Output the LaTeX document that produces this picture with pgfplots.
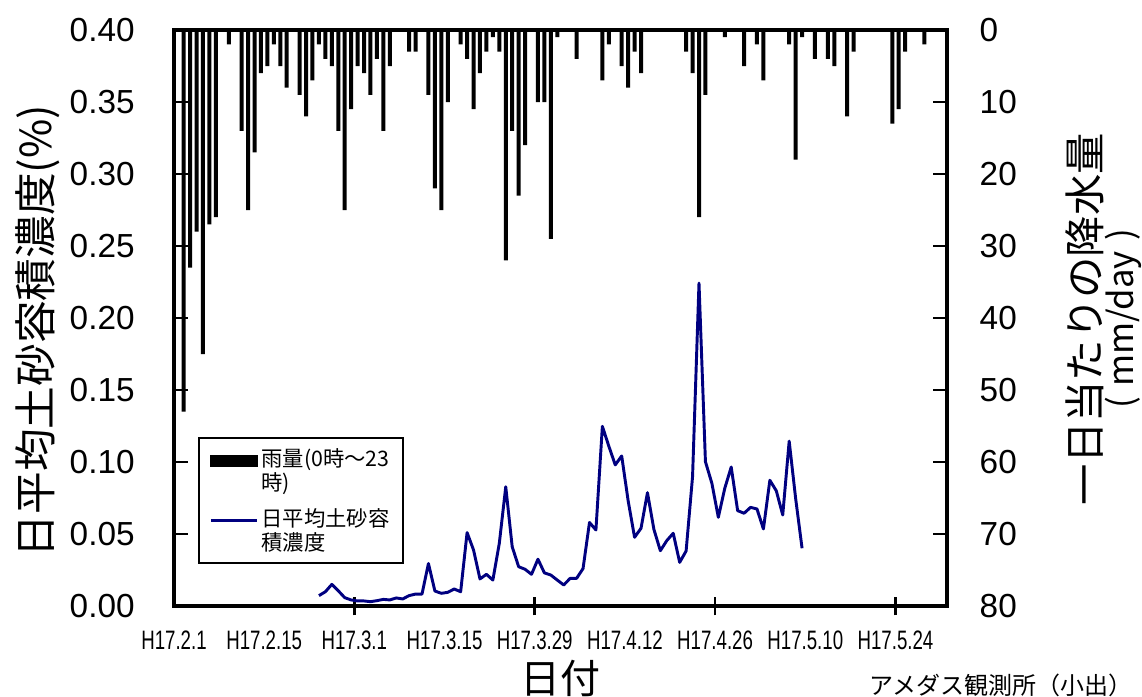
\documentclass[border=0pt]{standalone}
\usepackage{fontspec}
\setmainfont{Liberation Sans}
\newfontfamily\jp{Noto Sans CJK JP}
\newfontfamily\narrow[FakeStretch=0.7]{Liberation Sans}
\usepackage{pgfplots}
\usepackage{pgfplotstable}
\pgfplotsset{compat=1.18}
\definecolor{conc}{RGB}{0,0,128}

% daily rainfall (mm/day), x = day from H17.2.1 (bar centred in the day)
\pgfplotstableread{
x r
1.5 53
2.5 33
3.5 28
4.5 45
5.5 27
6.5 26
8.5 2
10.5 14
11.5 25
12.5 17
13.5 6
14.5 5
15.5 2
16.5 5
17.5 8
19.5 9
20.5 12
21.5 7
22.5 2
23.5 4
24.5 5
25.5 14
26.5 25
27.5 11
28.5 5
29.5 6
30.5 9
31.5 4
32.5 14
33.5 5
36.5 3
37.5 3
39.5 9
40.5 22
41.5 25
42.5 10
44.5 2
45.5 4
46.5 11
47.5 6
48.5 3
49.5 1
50.5 3
51.5 32
52.5 14
53.5 23
54.5 16
56.5 10
57.5 10
58.5 29
59.5 1
62.5 4
66.5 7
67.5 2
69.5 5
70.5 8
71.5 3
72.5 6
79.5 3
80.5 6
81.5 26
82.5 9
85.5 1
88.5 5
90.5 2
91.5 7
95.5 2
96.5 18
97.5 1
99.5 4
101.5 4
102.5 5
104.5 12
105.5 3
111.5 13
112.5 11
113.5 3
116.5 2
}\rain

% daily mean sediment concentration (%)
\pgfplotstableread{
x c
22.5 0.0072
23.5 0.0099
24.5 0.0150
25.5 0.0106
26.5 0.0058
27.5 0.0042
28.5 0.0035
29.5 0.0035
30.5 0.0030
31.5 0.0037
32.5 0.0046
33.5 0.0042
34.5 0.0056
35.5 0.0049
36.5 0.0072
37.5 0.0083
38.5 0.0083
39.5 0.0295
40.5 0.0104
41.5 0.0088
42.5 0.0095
43.5 0.0118
44.5 0.0099
45.5 0.0510
46.5 0.0389
47.5 0.0188
48.5 0.0220
49.5 0.0180
50.5 0.0435
51.5 0.0828
52.5 0.0412
53.5 0.0273
54.5 0.0255
55.5 0.0220
56.5 0.0325
57.5 0.0230
58.5 0.0215
59.5 0.0180
60.5 0.0146
61.5 0.0192
62.5 0.0192
63.5 0.0260
64.5 0.0580
65.5 0.0528
66.5 0.1248
67.5 0.1110
68.5 0.0980
69.5 0.1042
70.5 0.0731
71.5 0.0477
72.5 0.0540
73.5 0.0787
74.5 0.0532
75.5 0.0384
76.5 0.0454
77.5 0.0505
78.5 0.0303
79.5 0.0382
80.5 0.0898
81.5 0.2242
82.5 0.1002
83.5 0.0852
84.5 0.0616
85.5 0.0817
86.5 0.0965
87.5 0.0662
88.5 0.0644
89.5 0.0685
90.5 0.0674
91.5 0.0535
92.5 0.0873
93.5 0.0800
94.5 0.0632
95.5 0.1145
96.5 0.0748
97.5 0.0401
}\conctab

\begin{document}
\begin{tikzpicture}[x=0.75pt,y=0.75pt]
\useasboundingbox (0,0) rectangle (1142,696);
\pgfplotsset{frame/.style={at={(130.5pt,67.5pt)}, anchor=south west,
  scale only axis, width=579.75pt, height=432pt, xmin=0, xmax=120}}

% rainfall, right axis, bars hanging from the top
\begin{axis}[frame,
  ymin=0, ymax=80, y dir=reverse,
  axis line style={draw=none},
  xtick=\empty, minor xtick={14,42,70,98}, xtick pos=bottom,
  minor tick length=6pt,
  ytick={0,10,20,30,40,50,60,70,80},
  yticklabels={0,10,20,30,40,50,60,70,80},
  ytick pos=right, tick align=inside, major tick length=10.5pt,
  tick style={black, line width=2pt},
  yticklabel style={font=\fontsize{25}{25}\selectfont, xshift=21pt},
  ylabel={一日当たりの降水量},
  ylabel style={font=\jp\fontsize{31}{31}\selectfont,
    at={(axis description cs:1.1785,0.498)}, anchor=center}]
\addplot[ybar, bar width=3pt, fill=black, draw=none] table[x=x, y=r] {\rain};
\end{axis}

% long x ticks crossing the axis line
\begin{axis}[frame,
  ymin=0, ymax=1, axis line style={draw=none}, ytick=\empty,
  xtick={28,56,84,112}, xticklabels={}, xtick pos=bottom,
  xtick align=center, major tick length=14pt,
  tick style={black, line width=2pt}]
\end{axis}

% concentration, left axis
\begin{axis}[frame,
  ymin=0, ymax=0.4,
  axis line style={line width=2.4pt},
  ytick={0,0.05,0.1,0.15,0.2,0.25,0.3,0.35,0.4},
  yticklabels={0.00,0.05,0.10,0.15,0.20,0.25,0.30,0.35,0.40},
  ytick pos=left, ytick align=inside, major tick length=10.5pt,
  ytick style={black, line width=2pt},
  yticklabel style={font=\fontsize{25}{25}\selectfont, xshift=-26pt},
  xtick={0,14,28,42,56,70,84,98,112},
  xticklabels={H17.2.1,H17.2.15,H17.3.1,H17.3.15,H17.3.29,H17.4.12,H17.4.26,H17.5.10,H17.5.24},
  xtick pos=bottom, xtick style={draw=none},
  xticklabel style={font=\narrow\fontsize{20}{20}\selectfont, yshift=-15pt},
  ylabel={日平均土砂容積濃度(\%)},
  ylabel style={font=\jp\fontsize{32}{32}\selectfont,
    at={(axis description cs:-0.176,0.477)}, anchor=center},
  xlabel={日付},
  xlabel style={font=\jp\fontsize{30}{30}\selectfont,
    at={(axis description cs:0.5,-0.125)}, anchor=center},
  legend style={at={(axis description cs:0.031,0.2934)}, anchor=north west,
    draw=black, line width=1.2pt, font=\jp\fontsize{16}{18}\selectfont,
    cells={anchor=base west, align=left}, row sep=8pt,
    inner xsep=8pt, inner ysep=6pt}]
\addlegendimage{legend image code/.code={\fill[black] (0pt,18.5pt) rectangle (35pt,26pt);}}
\addlegendentry{雨量(0時～23\\時)}
\addplot[conc, line width=2.2pt, line join=round,
  legend image code/.code={\draw[conc, line width=2pt] (0pt,22.5pt) -- (35pt,22.5pt);}]
  table[x=x, y=c] {\conctab};
\addlegendentry{日平均土砂容\\積濃度}
\end{axis}

% unit line of the right label
\node[rotate=90, font=\jp\fontsize{26}{26}\selectfont] at (1123,377) {(\hspace{0.3em}mm/day\hspace{0.3em})};
\node[anchor=east, font=\jp\fontsize{18}{18}\selectfont] at (1137,11) {アメダス観測所（小出）};
\end{tikzpicture}
\end{document}
